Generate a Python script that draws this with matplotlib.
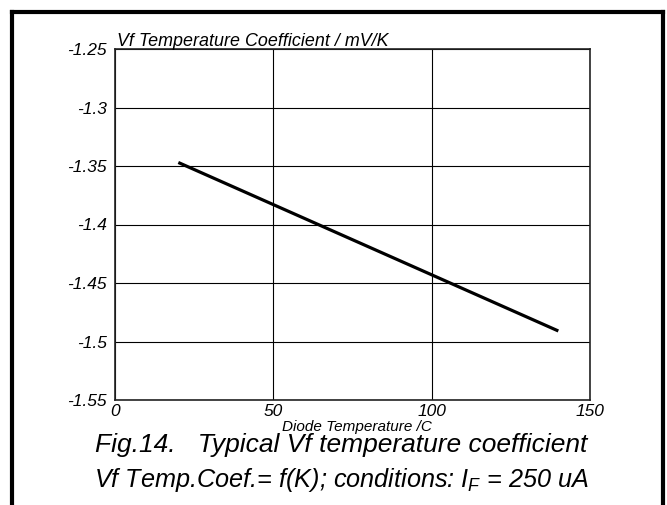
import matplotlib
matplotlib.use("Agg")
import matplotlib.pyplot as plt
from matplotlib.lines import Line2D

plt.rcParams['font.family'] = ['Liberation Sans', 'DejaVu Sans']
plt.rcParams['font.style'] = 'italic'
plt.rcParams['mathtext.fontset'] = 'custom'
plt.rcParams['mathtext.it'] = 'Liberation Sans:italic'
plt.rcParams['mathtext.rm'] = 'Liberation Sans:italic'

temperatur = [20, 140]
koeffisient = [-1.347, -1.491]
xticks = [0, 50, 100, 150]
yticks = [-1.55, -1.5, -1.45, -1.4, -1.35, -1.3, -1.25]
ytick_tekst = ["-1.55", "-1.5", "-1.45", "-1.4", "-1.35", "-1.3", "-1.25"]

W, H = 667, 505
fig = plt.figure(figsize=(W / 100, H / 100), dpi=100)
ax = fig.add_axes([115 / W, 1 - 400 / H, 475 / W, 351 / H])

ax.plot(temperatur, koeffisient, color="black", linewidth=2.3, solid_capstyle="butt")
ax.set_xlim(0, 150)
ax.set_ylim(-1.55, -1.25)
ax.set_xticks(xticks)
ax.set_xticklabels([str(t) for t in xticks])
ax.set_yticks(yticks)
ax.set_yticklabels(ytick_tekst)
ax.tick_params(length=0, labelsize=12.5, pad=6)
ax.tick_params(axis="x", pad=3)
ax.grid(True, color="black", linewidth=0.8)
for s in ax.spines.values():
    s.set_linewidth(1.2)
    s.set_color("#222222")

fig.text(117 / W, 1 - 46 / H, "Vf Temperature Coefficient / mV/K", fontsize=12.9,
         ha="left", va="baseline")
fig.text(357 / W, 1 - 427 / H, "Diode Temperature /C", fontsize=11,
         ha="center", va="center")
fig.text(341 / W, 1 - 445 / H, "Fig.14.   Typical Vf temperature coefficient",
         fontsize=19, ha="center", va="center")
fig.text(341 / W, 1 - 480 / H, "Vf Temp.Coef.= f(K); conditions: $I_F$ = 250 uA",
         fontsize=18.2, ha="center", va="center")

# ramme rundt figuren (åpen nederst)
x0, x1, y0 = 12 / W, 663 / W, 1 - 12 / H
for xs, ys in [([x0, x0], [y0, -0.05]), ([x0, x1], [y0, y0]), ([x1, x1], [y0, -0.05])]:
    fig.add_artist(Line2D(xs, ys, color="black", linewidth=3, solid_capstyle="projecting"))

fig.savefig("out.png", dpi=100)
